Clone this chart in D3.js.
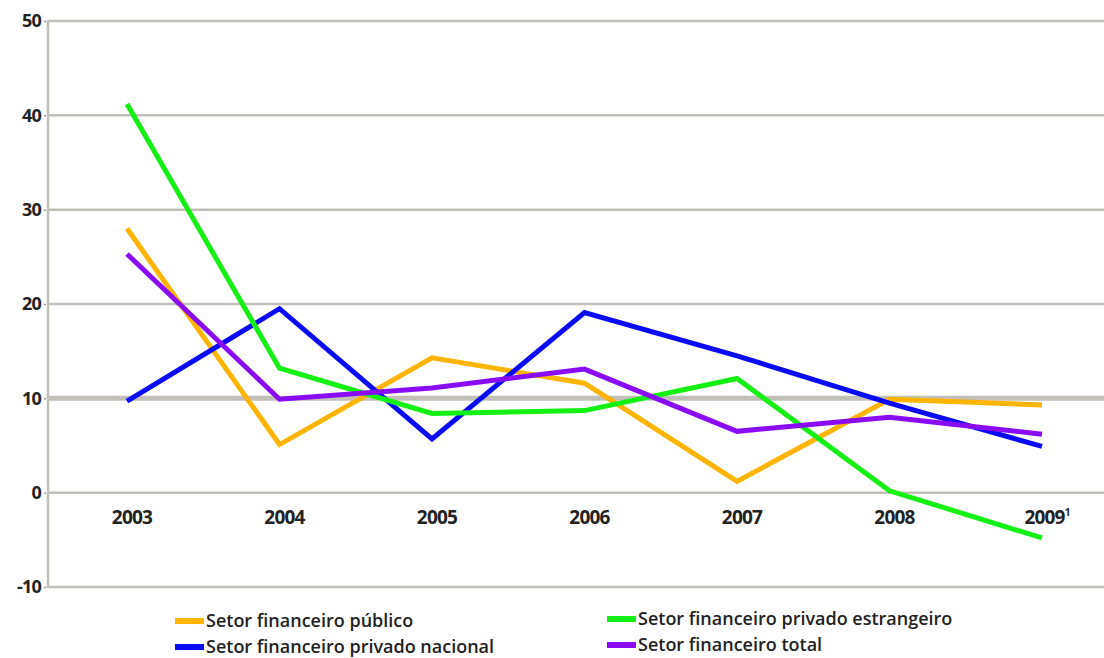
<!DOCTYPE html>
<html>
<head>
<meta charset="utf-8">
<script src="https://cdn.jsdelivr.net/npm/d3@7"></script>
<style>
  html, body { margin: 0; padding: 0; background: #ffffff; }
  svg { display: block; }
</style>
</head>
<body>
<svg id="chart" width="1104" height="658"></svg>
<script>
// Years on the horizontal axis (2009 carries a footnote mark)
const years = ["2003", "2004", "2005", "2006", "2007", "2008", "2009"];
const yTicks = [-10, 0, 10, 20, 30, 40, 50];

// Growth by sector, %
const publico     = [28.0, 5.1, 14.3, 11.6, 1.2, 9.9, 9.3];
const nacional    = [9.7, 19.5, 5.7, 19.1, 14.5, 9.5, 4.9];
const estrangeiro = [41.2, 13.2, 8.4, 8.7, 12.1, 0.2, -4.8];
const total       = [25.3, 9.9, 11.1, 13.1, 6.5, 8.0, 6.2];

const seriesNames  = ["Setor financeiro público", "Setor financeiro privado nacional",
                      "Setor financeiro privado estrangeiro", "Setor financeiro total"];
const seriesColors = ["#ffb400", "#0a0af5", "#14f014", "#8a0cf5"];
const seriesValues = [publico, nacional, estrangeiro, total];

const svg = d3.select("#chart");
const plotLeft = 48, plotRight = 1104, plotTop = 21, plotBottom = 587;

const x = d3.scalePoint().domain(years).range([127, 1042]);
const y = d3.scaleLinear().domain([-10, 50]).range([plotBottom, plotTop]);

// Horizontal grid lines; the 10% line is drawn heavier
svg.append("g")
  .selectAll("line")
  .data(yTicks)
  .join("line")
  .attr("x1", plotLeft).attr("x2", plotRight)
  .attr("y1", d => y(d)).attr("y2", d => y(d))
  .attr("stroke", "#c2bfb8")
  .attr("stroke-width", d => d === 10 ? 5 : 2.5);

// Vertical axis line
svg.append("line")
  .attr("x1", plotLeft).attr("x2", plotLeft)
  .attr("y1", y(50) - 1).attr("y2", y(-10) + 1)
  .attr("stroke", "#c2bfb8").attr("stroke-width", 2.5);

// Left axis labels with small tick marks
const yAxis = d3.axisLeft(y).tickValues(yTicks).tickSize(2).tickPadding(3)
  .tickFormat(d => d < 0 ? "-" + Math.abs(d) : String(d));
const gy = svg.append("g").attr("transform", `translate(${plotLeft - 2},0)`).call(yAxis);
gy.select(".domain").remove();
gy.selectAll(".tick line").attr("stroke", "#999").attr("stroke-width", 1.5);
gy.selectAll(".tick text")
  .attr("fill", "#222")
  .style("font-family", "'Open Sans', sans-serif")
  .style("font-weight", "700")
  .style("font-size", "18px")
  .style("letter-spacing", "-0.8px");

// Year labels below the zero line
const xLab = svg.append("g");
xLab.selectAll("text")
  .data(years)
  .join("text")
  .attr("x", d => x(d) + 5)
  .attr("y", 524)
  .attr("text-anchor", "middle")
  .attr("fill", "#222")
  .style("font-family", "'Open Sans', sans-serif")
  .style("font-weight", "700")
  .style("font-size", "19px")
  .style("letter-spacing", "-0.8px")
  .each(function(d) {
    const t = d3.select(this);
    t.append("tspan").text(d);
    if (d === "2009") {
      t.append("tspan").attr("dy", -8).style("font-size", "10px").text("1");
    }
  });

// Series lines
const line = d3.line().x((d, i) => x(years[i])).y(d => y(d));
svg.append("g")
  .selectAll("path")
  .data(seriesValues)
  .join("path")
  .attr("d", d => line(d))
  .attr("fill", "none")
  .attr("stroke", (d, i) => seriesColors[i])
  .attr("stroke-width", 5)
  .attr("stroke-linejoin", "miter");

// Legend in two columns
const legendPos = [[175, 621], [175, 647], [607, 619], [607, 645]];
const leg = svg.append("g")
  .selectAll("g")
  .data(seriesNames)
  .join("g")
  .attr("transform", (d, i) => `translate(${legendPos[i][0]},${legendPos[i][1]})`);
leg.append("rect")
  .attr("x", 0).attr("y", -3).attr("width", 29).attr("height", 6)
  .attr("fill", (d, i) => seriesColors[i]);
leg.append("text")
  .attr("x", 31).attr("y", 6)
  .attr("fill", "#222")
  .style("font-family", "'Open Sans', sans-serif")
  .style("font-weight", "600")
  .style("font-size", "18px")
  .style("letter-spacing", "0px")
  .text(d => d);
</script>
</body>
</html>
